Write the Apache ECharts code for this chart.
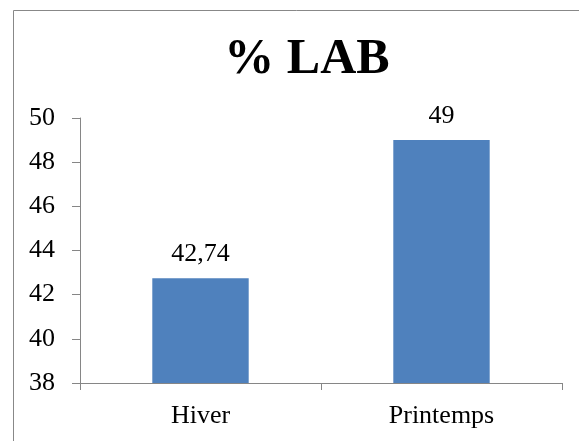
<!DOCTYPE html>
<html><head><meta charset="utf-8">
<script src="https://cdn.jsdelivr.net/npm/echarts@6/dist/echarts.min.js"></script>
<style>html,body{margin:0;padding:0;background:#fff;}#c{width:579px;height:441px;}</style>
</head><body><div id="c"></div>
<script>
var categories = ['Hiver', 'Printemps'];
var values = [42.74, 49];
var titleText = '% LAB';
var yMin = 38, yMax = 50, yInterval = 2;

var chart = echarts.init(document.getElementById('c'), null, {renderer: 'canvas'});
var font = '"Liberation Serif", "Times New Roman", serif';
chart.setOption({
  animation: false,
  backgroundColor: '#fff',
  title: {
    text: titleText, left: 302, top: 30, textAlign: 'center',
    textStyle: {fontFamily: font, fontWeight: 'bold', fontSize: 50, color: '#000'}
  },
  graphic: [{type: 'rect', shape: {x: 13.5, y: 10.5, width: 700, height: 600}, style: {fill: 'none', stroke: '#888', lineWidth: 1}, silent: true}],
  grid: {left: 80, right: 17, top: 118, bottom: 58},
  xAxis: {
    type: 'category', data: categories,
    axisLine: {lineStyle: {color: '#868686', width: 1}},
    axisTick: {show: true, alignWithLabel: false, length: 7, lineStyle: {color: '#868686'}},
    axisLabel: {fontFamily: font, fontSize: 26, color: '#000', margin: 20}
  },
  yAxis: {
    type: 'value', min: yMin, max: yMax, interval: yInterval,
    splitLine: {show: false},
    axisLine: {show: true, lineStyle: {color: '#868686', width: 1}},
    axisTick: {show: true, length: 8, lineStyle: {color: '#868686'}},
    axisLabel: {fontFamily: font, fontSize: 26, color: '#000', margin: 25}
  },
  series: [{
    type: 'bar', data: values, barWidth: '40%',
    itemStyle: {color: '#4F81BD'},
    label: {show: true, position: 'top', distance: 11, fontFamily: font, fontSize: 26, color: '#000',
      formatter: function (p) { return String(p.value).replace('.', ','); }}
  }]
});
</script></body></html>
